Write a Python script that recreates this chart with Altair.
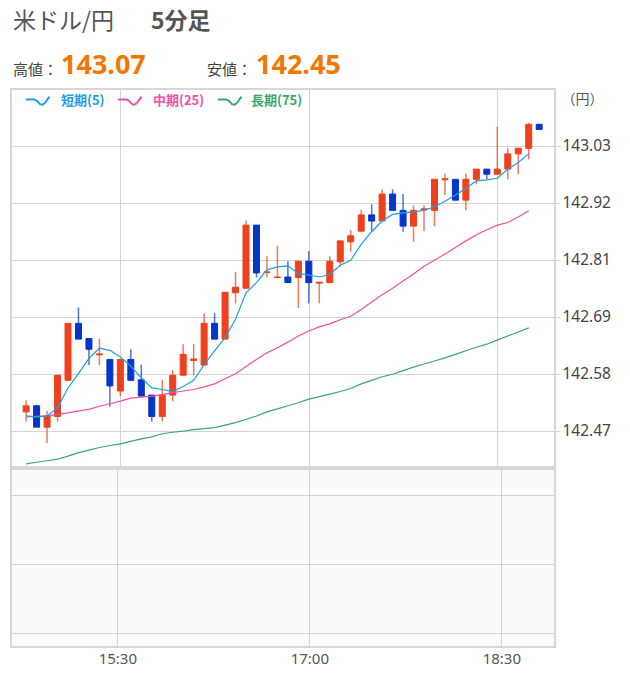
import altair as alt
import pandas as pd

# ---------------- data (USD/JPY, 5-minute candles) ----------------
start_time = "2024-01-01 14:45"
n_bars = 50

opens = [142.507, 142.519, 142.477, 142.498, 142.569, 142.681, 142.651, 142.619, 142.610, 142.548,
         142.610, 142.570, 142.540, 142.498, 142.540, 142.579, 142.608, 142.599, 142.681, 142.650,
         142.741, 142.750, 142.874, 142.781, 142.771, 142.772, 142.771, 142.803, 142.760, 142.761,
         142.802, 142.841, 142.862, 142.894, 142.882, 142.935, 142.903, 142.872, 142.904, 142.903,
         142.963, 142.964, 142.923, 142.964, 142.984, 142.974, 142.984, 143.014, 143.025, 143.072]
highs = [142.530, 142.521, 142.509, 142.579, 142.681, 142.712, 142.651, 142.651, 142.610, 142.610,
         142.630, 142.600, 142.540, 142.570, 142.589, 142.640, 142.640, 142.701, 142.701, 142.742,
         142.782, 142.883, 142.874, 142.813, 142.833, 142.803, 142.803, 142.823, 142.762, 142.813,
         142.843, 142.864, 142.904, 142.915, 142.944, 142.944, 142.935, 142.913, 142.913, 142.964,
         142.975, 142.964, 142.975, 142.984, 142.984, 143.067, 143.025, 143.025, 143.075, 143.072]
lows = [142.488, 142.477, 142.446, 142.488, 142.569, 142.650, 142.599, 142.599, 142.517, 142.538,
        142.569, 142.538, 142.488, 142.488, 142.528, 142.579, 142.579, 142.599, 142.650, 142.650,
        142.720, 142.750, 142.771, 142.771, 142.771, 142.761, 142.711, 142.720, 142.720, 142.761,
        142.792, 142.822, 142.862, 142.861, 142.882, 142.903, 142.861, 142.841, 142.862, 142.872,
        142.933, 142.923, 142.903, 142.954, 142.964, 142.974, 142.964, 142.974, 143.003, 143.062]
closes = [142.519, 142.477, 142.499, 142.579, 142.681, 142.650, 142.630, 142.621, 142.558, 142.610,
          142.569, 142.538, 142.498, 142.540, 142.579, 142.620, 142.611, 142.681, 142.650, 142.742,
          142.752, 142.874, 142.780, 142.782, 142.772, 142.761, 142.803, 142.761, 142.762, 142.803,
          142.843, 142.853, 142.894, 142.882, 142.935, 142.903, 142.872, 142.903, 142.906, 142.964,
          142.965, 142.923, 142.964, 142.984, 142.974, 142.984, 143.014, 143.025, 143.072, 143.062]

ma_short = [142.499, 142.497, 142.499, 142.515, 142.554, 142.582, 142.612, 142.632, 142.628, 142.615,
            142.597, 142.574, 142.554, 142.551, 142.547, 142.557, 142.569, 142.600, 142.627, 142.653,
            142.689, 142.741, 142.761, 142.786, 142.792, 142.794, 142.779, 142.776, 142.772, 142.777,
            142.795, 142.805, 142.836, 142.861, 142.882, 142.895, 142.898, 142.900, 142.903, 142.910,
            142.921, 142.933, 142.946, 142.961, 142.963, 142.966, 142.984, 142.997, 143.014, None]
ma_mid = [142.497, 142.498, 142.499, 142.502, 142.505, 142.509, 142.512, 142.518, 142.523, 142.528,
          142.534, 142.536, 142.538, 142.541, 142.545, 142.548, 142.551, 142.556, 142.562, 142.572,
          142.582, 142.596, 142.610, 142.623, 142.633, 142.644, 142.656, 142.666, 142.674, 142.680,
          142.688, 142.695, 142.708, 142.723, 142.737, 142.750, 142.764, 142.778, 142.793, 142.805,
          142.817, 142.830, 142.843, 142.855, 142.865, 142.874, 142.879, 142.890, 142.902, None]
ma_long = [142.405, 142.408, 142.411, 142.414, 142.420, 142.427, 142.432, 142.437, 142.441, 142.444,
           142.449, 142.454, 142.458, 142.464, 142.467, 142.469, 142.472, 142.474, 142.476, 142.481,
           142.486, 142.492, 142.499, 142.507, 142.513, 142.519, 142.525, 142.532, 142.537, 142.542,
           142.547, 142.553, 142.562, 142.569, 142.576, 142.581, 142.588, 142.595, 142.601, 142.607,
           142.613, 142.620, 142.627, 142.634, 142.640, 142.648, 142.656, 142.664, 142.672, None]

price_ticks = [142.47, 142.582, 142.694, 142.806, 142.918, 143.03]
time_ticks = ["15:30", "17:00", "18:30"]
sub_levels = [0, 1, 2]

legend_labels = ["短期(5)", "中期(25)", "長期(75)"]
title_main = "米ドル/円"
title_sub = "5分足"
high_label, high_value = "高値：", "143.07"
low_label, low_value = "安値：", "142.45"

# ---------------- styles ----------------
UP = "#ee401c"
DOWN = "#0536c9"
C_SHORT = "#1f9de8"
C_MID = "#f0509f"
C_LONG = "#3aa66a"
ORANGE = "#f07800"
GRID = "#d4d4d4"
JP = "Noto Sans CJK JP"
NUM = "Noto Sans"

times = pd.date_range(start_time, periods=n_bars, freq="5min").strftime("%Y-%m-%dT%H:%M:%S")
df = pd.DataFrame({"t": times, "o": opens, "h": highs, "l": lows, "c": closes,
                   "ma5": ma_short, "ma25": ma_mid, "ma75": ma_long})
df["dir"] = ["up" if c >= o else "down" for o, c in zip(opens, closes)]


def dt(h, m, s=0):
    return alt.DateTime(year=2024, month=1, date=1, hours=h, minutes=m, seconds=s)


x_domain = [dt(14, 40, 10), dt(18, 55, 10)]
x_vals = [dt(int(s.split(":")[0]), int(s.split(":")[1])) for s in time_ticks]
x_scale = alt.Scale(domain=x_domain, nice=False)

top_x = alt.X("t:T", scale=x_scale,
              axis=alt.Axis(values=x_vals, labels=False, ticks=False, domain=False,
                            grid=True, gridColor=GRID, title=None))
y_scale = alt.Scale(domain=[142.3987, 143.1414], nice=False, zero=False)
y_axis = alt.Axis(orient="right", values=price_ticks, format=".2f", grid=True, gridColor=GRID,
                  domain=False, tickSize=5, tickColor=GRID, labelPadding=2,
                  labelFont=NUM, labelFontSize=15.5, labelColor="#444",
                  title="（円）", titleAngle=0, titleAlign="left", titleBaseline="middle",
                  titleX=6, titleY=10, titleFont=JP, titleFontSize=14,
                  titleFontWeight="normal", titleColor="#555")
color_enc = alt.Color("dir:N", scale=alt.Scale(domain=["up", "down"], range=[UP, DOWN]), legend=None)
stroke_enc = alt.Stroke("dir:N", scale=alt.Scale(domain=["up", "down"], range=[UP, DOWN]), legend=None)

one = pd.DataFrame({"k": [0]})

# invisible anchor that fixes the page margins (left 10 px, top 88 px)
anchor = alt.Chart(one).mark_rect(opacity=0).encode(
    x=alt.value(-10), x2=alt.value(-9), y=alt.value(-88), y2=alt.value(-87))

wicks = alt.Chart(df).mark_rule(strokeWidth=1.5, opacity=0.7).encode(
    x=top_x, y=alt.Y("h:Q", scale=y_scale, axis=y_axis), y2="l:Q", color=color_enc)
bodies = alt.Chart(df).mark_bar(size=6, strokeWidth=1).encode(
    x=top_x, y=alt.Y("o:Q", scale=y_scale, axis=y_axis), y2="c:Q", color=color_enc, stroke=stroke_enc)


def ma_line(field, col):
    return alt.Chart(df).mark_line(strokeWidth=1.2, color=col).encode(
        x=top_x, y=alt.Y(f"{field}:Q", scale=y_scale, axis=y_axis))


def text_at(txt, x, y, size, color, weight="normal", font=JP, baseline="alphabetic"):
    return alt.Chart(one).mark_text(text=txt, align="left", baseline=baseline, font=font,
                                    fontSize=size, fontWeight=weight, color=color).encode(
        x=alt.value(x), y=alt.value(y))


WAVE = "M-1,-0.12 L-0.35,-0.12 C-0.12,-0.12 -0.02,0.28 0.2,0.28 C0.45,0.28 0.55,-0.05 0.8,-0.32"


def legend_item(label, col, x_icon, x_text):
    sym = alt.Chart(one).mark_point(shape=WAVE, size=700, filled=False, strokeWidth=2,
                                    color=col, opacity=1).encode(x=alt.value(x_icon), y=alt.value(12))
    txt = text_at(label, x_text, 12, 13, col, weight="bold", baseline="middle")
    return [sym, txt]


legend_layers = (legend_item(legend_labels[0], C_SHORT, 28, 50)
                 + legend_item(legend_labels[1], C_MID, 120, 142)
                 + legend_item(legend_labels[2], C_LONG, 220, 240))

header = [
    text_at(title_main, 2, -60, 23, "#555"),
    text_at(title_sub, 140, -60, 23, "#555", weight="bold"),
    text_at(high_label, 2, -14, 15, "#444"),
    text_at(high_value, 50, -15, 27, ORANGE, weight="bold", font=NUM),
    text_at(low_label, 196, -14, 15, "#444"),
    text_at(low_value, 245, -15, 27, ORANGE, weight="bold", font=NUM),
]

top = alt.layer(anchor, wicks, bodies,
                ma_line("ma75", C_LONG), ma_line("ma25", C_MID), ma_line("ma5", C_SHORT),
                *legend_layers, *header).properties(
    width=544, height=378,
    view=alt.ViewBackground(fill="white", stroke="#d6d6d6", strokeWidth=2))

# lower (indicator) panel — empty, with its own grid
bot_x = alt.X("t:T", scale=x_scale,
              axis=alt.Axis(values=x_vals, format="%H:%M", labels=True, ticks=False, domain=False,
                            grid=True, gridColor=GRID, title=None, labelPadding=4,
                            labelFont=NUM, labelFontSize=15, labelColor="#555"))
sub_df = pd.DataFrame({"level": sub_levels, "t": [times[0]] * len(sub_levels)})
bottom = alt.Chart(sub_df).mark_point(opacity=0).encode(
    x=bot_x,
    y=alt.Y("level:Q", scale=alt.Scale(domain=[-0.203, 2.377], nice=False, zero=False),
            axis=alt.Axis(orient="right", values=sub_levels, labels=False, ticks=False,
                          domain=False, grid=True, gridColor=GRID, title=None))
).properties(width=544, height=178,
             view=alt.ViewBackground(fill="#fafafa", stroke="#d6d6d6", strokeWidth=2))

chart = alt.vconcat(top, bottom, spacing=0).properties(padding=0, background="white")

chart.save("out.html", embed_options={"renderer": "svg", "actions": False})
